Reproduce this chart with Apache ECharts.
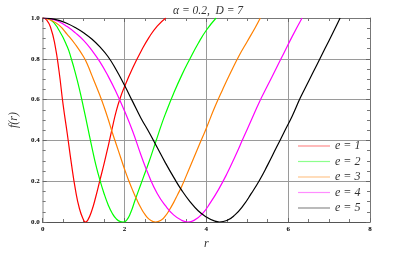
<!DOCTYPE html>
<html><head><meta charset="utf-8">
<script src="https://cdn.jsdelivr.net/npm/echarts@6/dist/echarts.min.js"></script>
<style>html,body{margin:0;padding:0;background:#fff}#c{width:415px;height:256px}</style>
</head><body><div id="c"></div>
<script>
const seriesNames = ['e = 1', 'e = 2', 'e = 3', 'e = 4', 'e = 5'];
const seriesColors = ['#ff0000', '#00ff00', '#ff8000', '#ff00ff', '#000000'];
const xTicks = [0, 2, 4, 6, 8];
const yTicks = [0, 0.2, 0.4, 0.6, 0.8, 1.0];

const r1 = [0, 0.1, 0.2, 0.3, 0.4, 0.5, 0.6, 0.7, 0.8, 0.9, 1.0, 1.04, 1.1, 1.2, 1.3, 1.4, 1.5, 1.6, 1.7, 1.8, 1.9, 2.0, 2.2, 2.4, 2.6, 2.8, 3.01];
const f1 = [1, 0.99, 0.95, 0.87, 0.74, 0.575, 0.435, 0.29, 0.16, 0.065, 0.01, 0, 0.008, 0.055, 0.125, 0.205, 0.285, 0.37, 0.46, 0.545, 0.61, 0.663, 0.755, 0.835, 0.905, 0.96, 1.0];

const r2 = [0, 0.2, 0.4, 0.6, 0.7, 0.8, 0.9, 1.0, 1.1, 1.2, 1.3, 1.4, 1.5, 1.6, 1.7, 1.8, 1.9, 1.97, 2.05, 2.15, 2.26, 2.4, 2.5, 2.6, 2.7, 2.8, 2.9, 3.0, 3.2, 3.4, 3.6, 3.8, 4.0, 4.24];
const f2 = [1, 0.99, 0.94, 0.86, 0.8, 0.73, 0.65, 0.56, 0.465, 0.37, 0.28, 0.205, 0.14, 0.085, 0.043, 0.015, 0.002, 0, 0.008, 0.045, 0.108, 0.185, 0.24, 0.295, 0.355, 0.415, 0.475, 0.53, 0.63, 0.72, 0.8, 0.875, 0.94, 1.0];

const r3 = [0, 0.2, 0.4, 0.6, 0.8, 1.0, 1.1, 1.2, 1.3, 1.4, 1.5, 1.6, 1.7, 1.8, 1.9, 2.0, 2.1, 2.2, 2.3, 2.4, 2.5, 2.6, 2.7, 2.76, 2.9, 3.0, 3.1, 3.2, 3.3, 3.4, 3.6, 3.8, 4.0, 4.2, 4.4, 4.6, 4.8, 5.0, 5.2, 5.32];
const f3 = [1, 0.99, 0.965, 0.92, 0.87, 0.81, 0.77, 0.72, 0.67, 0.62, 0.565, 0.505, 0.44, 0.38, 0.32, 0.26, 0.205, 0.155, 0.11, 0.07, 0.037, 0.014, 0.002, 0, 0.01, 0.03, 0.06, 0.095, 0.135, 0.175, 0.27, 0.365, 0.46, 0.56, 0.65, 0.735, 0.815, 0.885, 0.955, 1.0];

const r4 = [0, 0.2, 0.4, 0.6, 0.8, 1.0, 1.2, 1.4, 1.6, 1.8, 2.0, 2.2, 2.4, 2.6, 2.8, 3.0, 3.2, 3.4, 3.55, 3.7, 3.9, 4.1, 4.3, 4.5, 4.7, 4.9, 5.1, 5.3, 5.5, 5.7, 5.9, 6.1, 6.34];
const f4 = [1, 0.996, 0.982, 0.958, 0.927, 0.89, 0.842, 0.785, 0.715, 0.635, 0.545, 0.445, 0.33, 0.225, 0.14, 0.08, 0.035, 0.008, 0, 0.008, 0.04, 0.095, 0.16, 0.235, 0.32, 0.41, 0.5, 0.59, 0.67, 0.75, 0.83, 0.91, 1.0];

const r5 = [0, 0.2, 0.4, 0.6, 0.8, 1.0, 1.2, 1.4, 1.6, 1.8, 2.0, 2.2, 2.4, 2.6, 2.8, 3.0, 3.2, 3.4, 3.6, 3.8, 4.0, 4.2, 4.32, 4.5, 4.7, 4.9, 5.1, 5.3, 5.5, 5.7, 5.9, 6.1, 6.3, 6.5, 6.7, 6.9, 7.1, 7.27];
const f5 = [1, 0.997, 0.988, 0.973, 0.953, 0.928, 0.897, 0.858, 0.81, 0.745, 0.67, 0.59, 0.51, 0.44, 0.365, 0.29, 0.22, 0.155, 0.1, 0.055, 0.025, 0.005, 0, 0.007, 0.035, 0.08, 0.14, 0.205, 0.28, 0.36, 0.44, 0.52, 0.61, 0.69, 0.77, 0.85, 0.93, 1.0];

const rs = [r1, r2, r3, r4, r5];
const fs = [f1, f2, f3, f4, f5];

const serif = "'Liberation Serif', 'DejaVu Serif', serif";
const chart = echarts.init(document.getElementById('c'), null, {renderer: 'canvas'});

function axisCommon(showLabels, lineColor, lineWidth, isX) {
  return {
    type: 'value',
    min: isX ? xTicks[0] : yTicks[0],
    max: isX ? xTicks[xTicks.length - 1] : yTicks[yTicks.length - 1],
    interval: isX ? 2 : 0.2,
    axisLine: {show: true, onZero: false, lineStyle: {color: lineColor, width: lineWidth}},
    axisTick: {show: true, inside: true, length: 4, lineStyle: {color: '#666'}},
    minorTick: {show: true, splitNumber: 4, length: 3, lineStyle: {color: '#777'}},
    axisLabel: showLabels ? {
      show: true, fontFamily: serif, fontWeight: 'bold', fontSize: 7, color: '#000',
      margin: isX ? 4 : 3,
      formatter: isX ? (v => String(v)) : (v => v.toFixed(1))
    } : {show: false},
    splitLine: {show: false}
  };
}

const xBottom = Object.assign(axisCommon(true, '#555', 1, true), {
  position: 'bottom',
  splitLine: {show: true, lineStyle: {color: '#9a9a9a', width: 1}},
  name: 'r', nameLocation: 'middle', nameGap: 14,
  nameTextStyle: {fontFamily: serif, fontStyle: 'italic', fontSize: 12, color: '#333'}
});
const xTop = Object.assign(axisCommon(false, '#777', 1, true), {position: 'top'});
const yLeft = Object.assign(axisCommon(true, '#c4c4c4', 2, false), {
  position: 'left',
  splitLine: {show: true, lineStyle: {color: '#9a9a9a', width: 1}},
  name: 'f(r)', nameLocation: 'middle', nameGap: 19,
  nameTextStyle: {fontFamily: serif, fontStyle: 'italic', fontSize: 12, color: '#333'}
});
const yRight = Object.assign(axisCommon(false, '#777', 1, false), {position: 'right'});

const series = seriesNames.map((n, i) => ({
  name: n,
  type: 'line',
  xAxisIndex: 0, yAxisIndex: 0,
  data: rs[i].map((x, j) => [x, fs[i][j]]),
  smooth: 0.5,
  symbol: 'none',
  showSymbol: false,
  clip: true,
  lineStyle: {color: seriesColors[i], width: 1.2},
  itemStyle: {color: seriesColors[i]}
}));
series.push({type: 'line', xAxisIndex: 1, yAxisIndex: 1, data: [], silent: true});

chart.setOption({
  animation: false,
  backgroundColor: '#fff',
  title: {
    text: 'α = 0.2,  D = 7',
    left: 168, top: 0,
    textStyle: {fontFamily: serif, fontStyle: 'italic', fontWeight: 'normal', fontSize: 11.5, color: '#333'}
  },
  grid: {left: 40, right: 45, top: 18, bottom: 34, containLabel: false},
  xAxis: [xBottom, xTop],
  yAxis: [yLeft, yRight],
  legend: {
    data: seriesNames,
    orient: 'vertical',
    left: 293, top: 135,
    icon: 'rect',
    itemWidth: 32, itemHeight: 1.2, itemGap: 3.5,
    itemStyle: {opacity: 0.45},
    textStyle: {fontFamily: serif, fontStyle: 'italic', fontSize: 12, color: '#333', lineHeight: 12}
  },
  series: series
});
</script></body></html>
